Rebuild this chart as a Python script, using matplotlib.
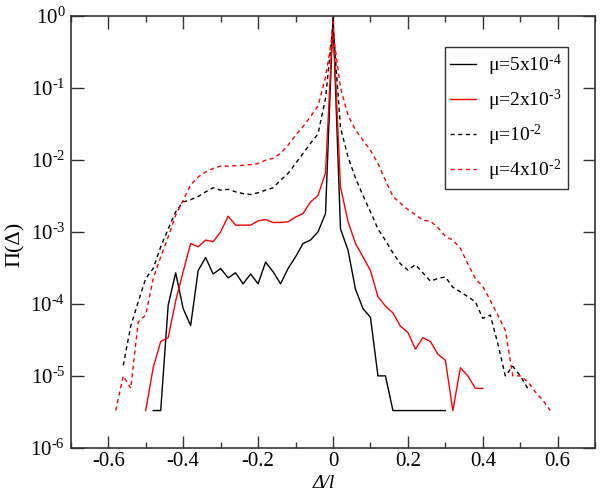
import numpy as np
import matplotlib
matplotlib.use("Agg")
import matplotlib.pyplot as plt
from matplotlib.ticker import MultipleLocator, NullLocator

plt.rcParams['font.family'] = ['Liberation Serif', 'DejaVu Serif']
plt.rcParams['mathtext.fontset'] = 'custom'
plt.rcParams['mathtext.rm'] = 'Liberation Serif'
plt.rcParams['mathtext.it'] = 'Liberation Serif:italic'

# mu = 5x10^-4 (black solid)
x_a = [-0.48, -0.46, -0.44, -0.42, -0.40, -0.38, -0.36, -0.34, -0.32, -0.30,
       -0.28, -0.26, -0.24, -0.22, -0.20, -0.18, -0.16, -0.14, -0.12, -0.10,
       -0.08, -0.06, -0.04, -0.02, 0.0, 0.02, 0.04, 0.06, 0.08, 0.10,
       0.12, 0.14, 0.16, 0.18, 0.20, 0.22, 0.24, 0.26, 0.28, 0.30]
p_a = [3.3e-6, 3.3e-6, 9.6e-5, 2.7e-4, 8.6e-5, 5.0e-5, 2.9e-4, 4.4e-4, 2.6e-4, 3.1e-4,
       2.3e-4, 2.7e-4, 1.9e-4, 2.6e-4, 1.9e-4, 3.8e-4, 2.8e-4, 1.9e-4, 3.1e-4, 4.5e-4,
       6.9e-4, 7.7e-4, 1.0e-3, 1.8e-3, 0.97, 1.1e-3, 5.6e-4, 1.6e-4, 8.6e-5, 6.5e-5,
       1.0e-5, 1.0e-5, 3.3e-6, 3.3e-6, 3.3e-6, 3.3e-6, 3.3e-6, 3.3e-6, 3.3e-6, 3.3e-6]

# mu = 2x10^-3 (red solid)
x_b = [-0.50, -0.48, -0.46, -0.44, -0.42, -0.40, -0.38, -0.36, -0.34, -0.32,
       -0.30, -0.28, -0.26, -0.24, -0.22, -0.20, -0.18, -0.16, -0.14, -0.12,
       -0.10, -0.08, -0.06, -0.04, -0.02, 0.0, 0.02, 0.04, 0.06, 0.08,
       0.10, 0.12, 0.14, 0.16, 0.18, 0.20, 0.22, 0.24, 0.26, 0.28,
       0.30, 0.32, 0.34, 0.36, 0.38, 0.40]
p_b = [3.3e-6, 1.3e-5, 3.0e-5, 3.4e-5, 1.1e-4, 2.8e-4, 6.9e-4, 6.2e-4, 7.7e-4, 7.3e-4,
       1.0e-3, 1.65e-3, 1.24e-3, 1.24e-3, 1.24e-3, 1.42e-3, 1.49e-3, 1.35e-3, 1.35e-3, 1.38e-3,
       1.6e-3, 1.8e-3, 2.6e-3, 3.2e-3, 6.6e-3, 0.85, 4.2e-3, 1.4e-3, 6.9e-4, 4.5e-4,
       2.9e-4, 1.26e-4, 9.3e-5, 7.5e-5, 4.9e-5, 4.0e-5, 2.35e-5, 3.4e-5, 3.0e-5, 2.0e-5,
       1.65e-5, 3.3e-6, 1.3e-5, 1.0e-5, 6.7e-6, 6.7e-6]

# mu = 10^-2 (black dashed)
x_c = [-0.56, -0.54, -0.52, -0.50, -0.48, -0.46, -0.44, -0.42, -0.40, -0.38,
       -0.36, -0.34, -0.32, -0.30, -0.28, -0.26, -0.24, -0.22, -0.20, -0.18,
       -0.16, -0.14, -0.12, -0.10, -0.08, -0.06, -0.04, -0.02, 0.0, 0.02,
       0.04, 0.06, 0.08, 0.10, 0.12, 0.14, 0.16, 0.18, 0.20, 0.22,
       0.24, 0.26, 0.28, 0.30, 0.32, 0.34, 0.36, 0.38, 0.40, 0.42,
       0.44, 0.46, 0.48, 0.50, 0.52]
p_c = [1.4e-5, 4.9e-5, 1.07e-4, 2.25e-4, 3.1e-4, 6.2e-4, 1.1e-3, 1.9e-3, 2.6e-3, 2.8e-3,
       3.1e-3, 3.6e-3, 4.1e-3, 3.8e-3, 3.9e-3, 3.6e-3, 3.4e-3, 3.3e-3, 3.5e-3, 3.8e-3,
       4.1e-3, 5.2e-3, 6.5e-3, 8.9e-3, 1.23e-2, 1.7e-2, 2.3e-2, 7.1e-2, 0.75, 2.8e-2,
       1.1e-2, 5.6e-3, 3.2e-3, 1.9e-3, 1.1e-3, 7.6e-4, 5.1e-4, 3.6e-4, 2.95e-4, 3.5e-4,
       2.7e-4, 2.07e-4, 2.25e-4, 2.37e-4, 1.7e-4, 1.47e-4, 1.26e-4, 1.07e-4, 6.3e-5, 7.0e-5,
       2.8e-5, 1.0e-5, 1.36e-5, 1.0e-5, 6.7e-6]

# mu = 4x10^-2 (red dashed)
x_d = [-0.58, -0.56, -0.54, -0.52, -0.50, -0.48, -0.46, -0.44, -0.42, -0.40,
       -0.38, -0.36, -0.34, -0.32, -0.30, -0.28, -0.26, -0.24, -0.22, -0.20,
       -0.18, -0.16, -0.14, -0.12, -0.10, -0.08, -0.06, -0.04, -0.02, 0.0,
       0.02, 0.04, 0.06, 0.08, 0.10, 0.12, 0.14, 0.16, 0.18, 0.20,
       0.22, 0.24, 0.26, 0.28, 0.30, 0.32, 0.34, 0.36, 0.38, 0.40,
       0.42, 0.44, 0.46, 0.48, 0.50, 0.52, 0.54, 0.56, 0.58]
p_d = [3.3e-6, 1.0e-5, 6.7e-6, 5.6e-5, 7.0e-5, 2.25e-4, 4.5e-4, 8.5e-4, 1.7e-3, 2.75e-3,
       4.5e-3, 5.8e-3, 6.8e-3, 7.6e-3, 8.2e-3, 8.2e-3, 8.3e-3, 8.4e-3, 8.6e-3, 8.9e-3,
       9.9e-3, 1.05e-2, 1.23e-2, 1.6e-2, 2.2e-2, 2.9e-2, 4.0e-2, 5.6e-2, 0.14, 0.6,
       0.1, 4.2e-2, 2.6e-2, 1.88e-2, 1.36e-2, 8.9e-3, 5.2e-3, 3.1e-3, 2.5e-3, 2.04e-3,
       1.74e-3, 1.45e-3, 1.41e-3, 1.15e-3, 8.7e-4, 7.7e-4, 5.9e-4, 3.6e-4, 2.25e-4, 1.74e-4,
       1.12e-4, 7.0e-5, 4.3e-5, 1.0e-5, 1.0e-5, 8.3e-6, 6.0e-6, 4.6e-6, 3.3e-6]

labels = ['\u03bc=5x10$^{\u20104}$', '\u03bc=2x10$^{\u20103}$',
          '\u03bc=10$^{\u20102}$', '\u03bc=4x10$^{\u20102}$']
x_ticks = [-0.6, -0.4, -0.2, 0.0, 0.2, 0.4, 0.6]
x_ticklabels = ['-0.6', '-0.4', '-0.2', '0', '0.2', '0.4', '0.6']
y_ticks = [1e0, 1e-1, 1e-2, 1e-3, 1e-4, 1e-5, 1e-6]
y_ticklabels = ['10$^{0}$', '10$^{\u20101}$', '10$^{\u20102}$', '10$^{\u20103}$',
                '10$^{\u20104}$', '10$^{\u20105}$', '10$^{\u20106}$']

fig = plt.figure(figsize=(6.0, 4.96), dpi=100)
ax = fig.add_axes([0.118, 0.097, 0.874, 0.871])

ax.plot(x_a, p_a, color='black', lw=1.0, label=labels[0])
ax.plot(x_b, p_b, color='red', lw=1.0, label=labels[1])
ax.plot(x_c, p_c, color='black', lw=1.0, dashes=(3, 2.5), label=labels[2])
ax.plot(x_d, p_d, color='red', lw=1.0, dashes=(3, 2.5), label=labels[3])

ax.set_yscale('log')
ax.set_xlim(-0.7, 0.7)
ax.set_ylim(1e-6, 1e0)

ax.set_xticks(x_ticks)
ax.set_xticklabels(x_ticklabels)
ax.xaxis.set_minor_locator(MultipleLocator(0.1))
ax.set_yticks(y_ticks)
ax.set_yticklabels(y_ticklabels)
ax.yaxis.set_minor_locator(NullLocator())

ax.tick_params(which='both', direction='in', top=True, right=True,
               color='#333333', labelsize=15, width=1.0)
ax.tick_params(which='major', length=9)
ax.tick_params(which='minor', length=4.5)
ax.tick_params(axis='x', pad=3)
ax.tick_params(axis='y', pad=4)
for s in ax.spines.values():
    s.set_color('#333333')
    s.set_linewidth(1.2)

ax.set_xlabel('\u0394/l', fontsize=14, fontstyle='italic')
ax.set_ylabel('\u03a0(\u0394)', fontsize=16)
ax.xaxis.set_label_coords(0.483, -0.063)
ax.yaxis.set_label_coords(-0.088, 0.47)

leg = ax.legend(loc='upper right', bbox_to_anchor=(0.948, 0.928), borderaxespad=0,
                fontsize=14, fancybox=False, framealpha=1, edgecolor='#333333',
                handlelength=1.3, handletextpad=0.65, labelspacing=0.5,
                borderpad=0.3)
leg.get_frame().set_linewidth(1.0)

fig.savefig('out.png', dpi=100)
